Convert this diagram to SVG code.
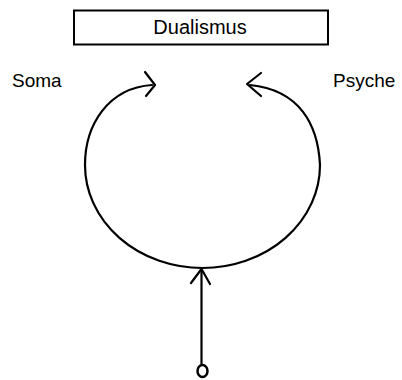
<svg xmlns="http://www.w3.org/2000/svg" width="402" height="380" viewBox="0 0 402 380">
<style>
.ln{fill:none;stroke:#000;stroke-width:2.2;stroke-linecap:round;stroke-linejoin:round}
.t{font-family:"Liberation Sans",Arial,sans-serif;fill:#000}
</style>
<rect width="402" height="380" fill="#fff"/>
<g id="dualismus">
<rect x="74" y="10.5" width="254" height="34" fill="#fff" stroke="#000" stroke-width="2"/>
<text class="t" x="200" y="33.5" font-size="20" text-anchor="middle">Dualismus</text>
</g>
<g id="soma"><text class="t" x="12" y="87" font-size="19">Soma</text></g>
<g id="psyche"><text class="t" x="333" y="87" font-size="19">Psyche</text></g>
<g id="start"><ellipse cx="202.5" cy="371" rx="5" ry="6" fill="#fff" stroke="#000" stroke-width="2.5"/></g>
<g id="connectors">
<path class="ln" d="M85,165 C85,125 108,88 152,85"/>
<polyline class="ln" points="145,72 155,85 146,96"/>
<path class="ln" d="M320,165 C318,125 300,90 250,85"/>
<polyline class="ln" points="261,73 247,84 261,96"/>
<path class="ln" d="M85,165 A117.5,103 0 0 0 320,165"/>
<line class="ln" x1="201.5" y1="270" x2="201.5" y2="364"/>
<polyline class="ln" points="191,283 201.5,269 210,284"/>
</g>
</svg>
